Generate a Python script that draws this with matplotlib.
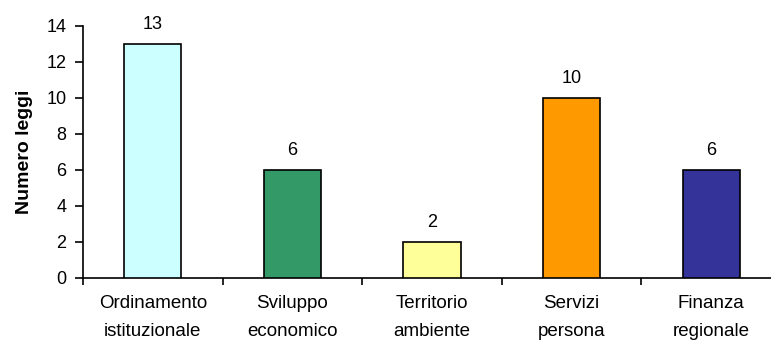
import matplotlib
matplotlib.use("Agg")
import matplotlib.pyplot as plt
import numpy as np

categories = ["Ordinamento\nistituzionale", "Sviluppo\neconomico", "Territorio\nambiente",
              "Servizi\npersona", "Finanza\nregionale"]
laws = [13, 6, 2, 10, 6]
colors = ["#CCFFFF", "#339966", "#FFFF99", "#FF9900", "#333399"]

plt.rcParams["font.family"] = ["Liberation Sans", "DejaVu Sans"]

fig = plt.figure(figsize=(7.71, 3.47), dpi=100)
# axis runs past the right edge of the figure
ax = fig.add_axes([83 / 771, (347 - 278) / 347, 698 / 771, 252 / 347])

x = np.arange(len(laws))
ax.bar(x, laws, width=0.41, color=colors, edgecolor="black", linewidth=1.2, zorder=3)
for xi, v in zip(x, laws):
    ax.text(xi, v + 0.62, str(v), ha="center", va="bottom", fontsize=13)

ax.set_xlim(-0.5, len(laws) - 0.5)
ax.set_ylim(0, 14)
ax.set_yticks(range(0, 15, 2))
ax.set_xticks(x)
ax.set_xticklabels(categories, fontsize=13.5, linespacing=1.85)
ax.set_xticks(np.arange(len(laws) + 1) - 0.5, minor=True)
ax.tick_params(axis="x", which="major", length=0, pad=12)
ax.tick_params(axis="x", which="minor", length=5, width=1.2, direction="out")
ax.tick_params(axis="y", labelsize=13, length=6, width=1.2, direction="out", pad=6)
ax.set_ylabel("Numero leggi", fontsize=14, fontweight="bold")
ax.yaxis.set_label_coords(-0.072, 0.5)

for side in ["top", "right"]:
    ax.spines[side].set_visible(False)
ax.spines["left"].set_linewidth(1.2)
ax.spines["bottom"].set_linewidth(1.2)

fig.savefig("out.png", dpi=100)
